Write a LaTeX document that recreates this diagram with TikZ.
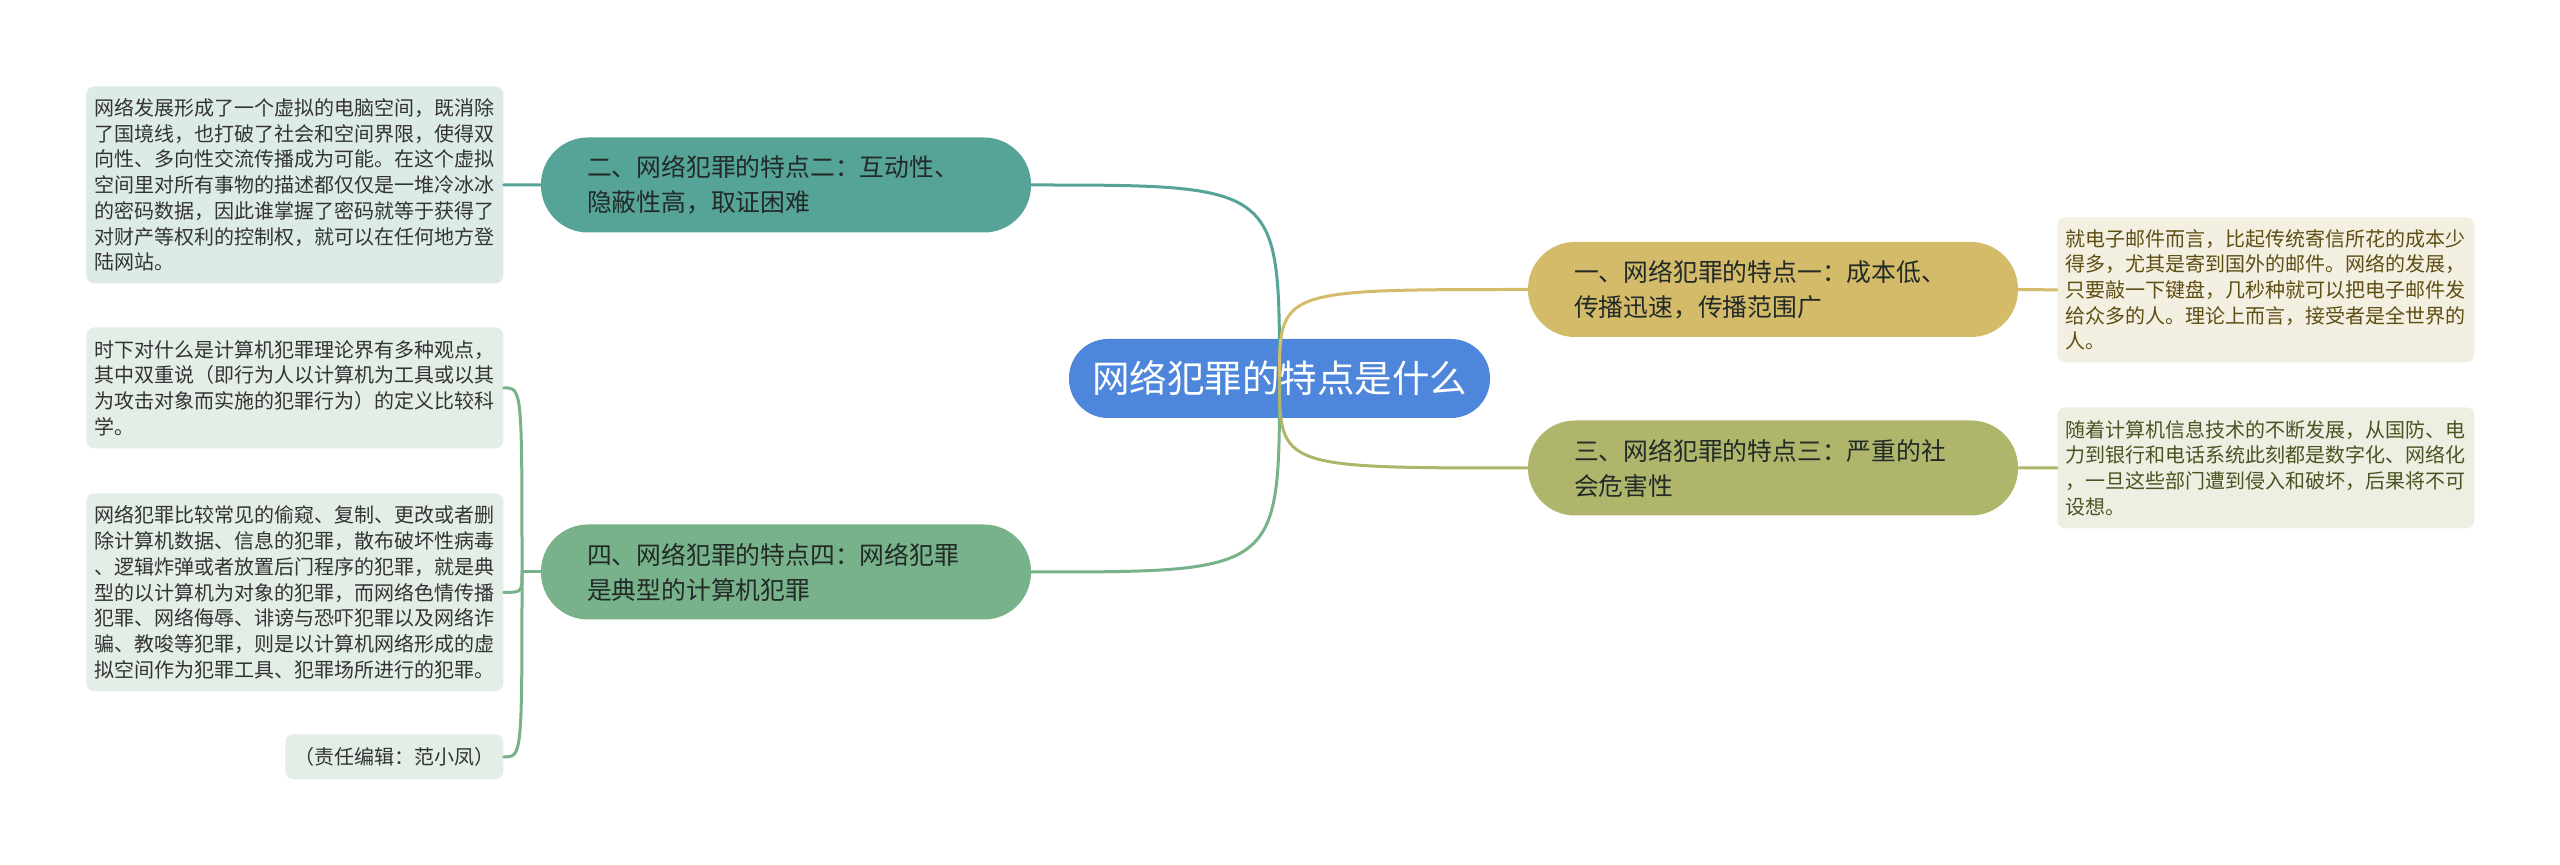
\documentclass[tikz,border=0pt]{standalone}
\usepackage{fontspec}
\setmainfont{Noto Sans CJK SC}
\definecolor{rootc}{HTML}{4D86DB}
\definecolor{tealc}{HTML}{56A397}
\definecolor{greenc}{HTML}{78B28A}
\definecolor{goldc}{HTML}{D4BB6A}
\definecolor{olivec}{HTML}{AFB66C}
\definecolor{tealleaf}{HTML}{DDEBE8}
\definecolor{greenleaf}{HTML}{E3EEE6}
\definecolor{goldleaf}{HTML}{F4F0E1}
\definecolor{oliveleaf}{HTML}{EEEFE3}
\definecolor{darktext}{HTML}{222A28}
\definecolor{goldtext}{HTML}{5E4E14}
\definecolor{olivetext}{HTML}{4B5322}
\definecolor{leaftext}{HTML}{333333}
\begin{document}
\begin{tikzpicture}[x=0.5pt,y=-0.5pt,
  rootbox/.style={rounded corners=19.5pt, minimum width=210.5pt, minimum height=39.5pt,
    inner sep=0pt, text=white, font=\fontsize{18.75}{22}\selectfont},
  topic/.style={rounded corners=23.5pt, minimum height=47.5pt, inner ysep=0pt,
    text width=199pt, inner xsep=23pt,
    align=left, text=darktext, font=\fontsize{12.4}{17.5}\selectfont},
  leafbox/.style={rounded corners=4pt, anchor=north west, inner ysep=0pt, inner xsep=4.25pt,
    text width=200pt, align=left, font=\fontsize{10}{12.85}\selectfont},
  conn/.style={line width=1.5pt, line cap=round}
]
\fill[white] (0,0) rectangle (2560,865);
\useasboundingbox (0,0) rectangle (2560,865);

% root
\node[rootbox, fill=rootc] (root) at (1279.5,378.5) {网络犯罪的特点是什么};

% topics
\node[topic, fill=tealc] (n2) at (786,185)
  {二、网络犯罪的特点二：互动性、\\隐蔽性高，取证困难};
\node[topic, fill=greenc] (n4) at (786,572)
  {四、网络犯罪的特点四：网络犯罪\\是典型的计算机犯罪};
\node[topic, fill=goldc] (n1) at (1773,289.5)
  {一、网络犯罪的特点一：成本低、\\传播迅速，传播范围广};
\node[topic, fill=olivec] (n3) at (1773,468)
  {三、网络犯罪的特点三：严重的社\\会危害性};

% leaves left
\node[leafbox, fill=tealleaf, text=leaftext, minimum height=98.5pt] (l2) at (86,86)
  {网络发展形成了一个虚拟的电脑空间，既消除\\
   了国境线，也打破了社会和空间界限，使得双\\
   向性、多向性交流传播成为可能。在这个虚拟\\
   空间里对所有事物的描述都仅仅是一堆冷冰冰\\
   的密码数据，因此谁掌握了密码就等于获得了\\
   对财产等权利的控制权，就可以在任何地方登\\
   陆网站。};
\node[leafbox, fill=greenleaf, text=leaftext, minimum height=60.5pt] (l4a) at (86,327)
  {时下对什么是计算机犯罪理论界有多种观点，\\
   其中双重说（即行为人以计算机为工具或以其\\
   为攻击对象而实施的犯罪行为）的定义比较科\\
   学。};
\node[leafbox, fill=greenleaf, text=leaftext, minimum height=99pt] (l4b) at (86,493)
  {网络犯罪比较常见的偷窥、复制、更改或者删\\
   除计算机数据、信息的犯罪，散布破坏性病毒\\
   、逻辑炸弹或者放置后门程序的犯罪，就是典\\
   型的以计算机为对象的犯罪，而网络色情传播\\
   犯罪、网络侮辱、诽谤与恐吓犯罪以及网络诈\\
   骗、教唆等犯罪，则是以计算机网络形成的虚\\
   拟空间作为犯罪工具、犯罪场所进行的犯罪。};
\node[leafbox, fill=greenleaf, text=leaftext, minimum height=22.5pt, text width=100.5pt,
  align=center] (l4c) at (285,734) {（责任编辑：范小凤）};

% leaves right
\node[leafbox, fill=goldleaf, text=goldtext, minimum height=72.5pt] (r1) at (2057,217)
  {就电子邮件而言，比起传统寄信所花的成本少\\
   得多，尤其是寄到国外的邮件。网络的发展，\\
   只要敲一下键盘，几秒种就可以把电子邮件发\\
   给众多的人。理论上而言，接受者是全世界的\\
   人。};
\node[leafbox, fill=oliveleaf, text=olivetext, minimum height=60.5pt] (r3) at (2057,407)
  {随着计算机信息技术的不断发展，从国防、电\\
   力到银行和电话系统此刻都是数字化、网络化\\
   ，一旦这些部门遭到侵入和破坏，后果将不可\\
   设想。};

% connectors from root
\draw[conn, tealc] (root.center) .. controls (root.center |- n2.east) .. (n2.east);
\draw[conn, greenc] (root.center) .. controls (root.center |- n4.east) .. (n4.east);
\draw[conn, goldc] (root.center) .. controls (root.center |- n1.west) .. (n1.west);
\draw[conn, olivec] (root.center) .. controls (root.center |- n3.west) .. (n3.west);

% topic to leaves
\draw[conn, tealc] (n2.west) -- (l2.east);
\draw[conn, goldc] (n1.east) -- (r1.west);
\draw[conn, olivec] (n3.east) -- (r3.west);

\coordinate (bus) at (522,572);
\draw[conn, greenc] (n4.west) -- (bus);
\draw[conn, greenc] (bus) .. controls (bus |- l4a.east) .. (l4a.east);
\draw[conn, greenc] (bus) .. controls (bus |- l4b.east) .. (l4b.east);
\draw[conn, greenc] (bus) .. controls (bus |- l4c.east) .. (l4c.east);
\end{tikzpicture}
\end{document}
